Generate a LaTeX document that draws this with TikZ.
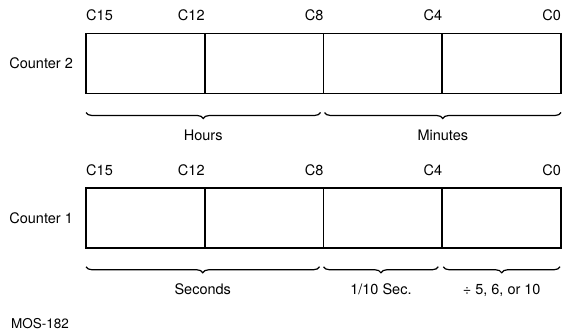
\documentclass[tikz,border=0pt]{standalone}
\usepackage{fontspec}
\setmainfont{TeX Gyre Heros}
\usetikzlibrary{positioning, calc, decorations.pathreplacing}

\begin{document}
\begin{tikzpicture}[
    x=1pt, y=-1pt,
    cell/.style={rectangle, draw, line width=1.6pt, minimum width=118.75pt, minimum height=60pt, outer sep=0pt, inner sep=0pt},
    bitlbl/.style={font=\fontsize{14.5}{16}\selectfont, inner sep=0pt},
    ctrlbl/.style={font=\fontsize{14.5}{16}\selectfont, inner sep=0pt},
    brc/.style={decorate, decoration={brace, mirror, amplitude=6pt}, line width=1.2pt},
    fieldlbl/.style={font=\fontsize{14.5}{16}\selectfont, inner sep=0pt, anchor=base, yshift=-28pt}
]
    \useasboundingbox (0,0) rectangle (563,332);

    % counter 2
    \node[cell] (c2a) at (145.4,63.5) {};
    \node[cell, right=0pt of c2a] (c2b) {};
    \node[cell, right=0pt of c2b] (c2c) {};
    \node[cell, right=0pt of c2c] (c2d) {};
    \node[ctrlbl, left=13pt of c2a] (ctr2) {Counter 2};

    \node[bitlbl, above right=12.5pt and 0pt of c2a.north west] (c2b15) {C15};
    \node[bitlbl, above left=12.5pt and 0pt of c2a.north east] (c2b12) {C12};
    \node[bitlbl, above left=12.5pt and 0pt of c2b.north east] (c2b8) {C8};
    \node[bitlbl, above left=12.5pt and 0pt of c2c.north east] (c2b4) {C4};
    \node[bitlbl, above left=12.5pt and 0pt of c2d.north east] (c2b0) {C0};

    \draw[brc] ($(c2a.south west)+(0,19)$) -- node[fieldlbl] {Hours} ($(c2b.south east)+(-3,19)$);
    \draw[brc] ($(c2c.south west)+(1,19)$) -- node[fieldlbl] {Minutes} ($(c2d.south east)+(0,19)$);

    % counter 1
    \node[cell] (c1a) at (145.4,218.25) {};
    \node[cell, right=0pt of c1a] (c1b) {};
    \node[cell, right=0pt of c1b] (c1c) {};
    \node[cell, right=0pt of c1c] (c1d) {};
    \node[ctrlbl, left=13pt of c1a] (ctr1) {Counter 1};

    \node[bitlbl, above right=12.5pt and 0pt of c1a.north west] (c1b15) {C15};
    \node[bitlbl, above left=12.5pt and 0pt of c1a.north east] (c1b12) {C12};
    \node[bitlbl, above left=12.5pt and 0pt of c1b.north east] (c1b8) {C8};
    \node[bitlbl, above left=12.5pt and 0pt of c1c.north east] (c1b4) {C4};
    \node[bitlbl, above left=12.5pt and 0pt of c1d.north east] (c1b0) {C0};

    \draw[brc] ($(c1a.south west)+(0,18.5)$) -- node[fieldlbl] {Seconds} ($(c1b.south east)+(-4,18.5)$);
    \draw[brc] ($(c1c.south west)+(0,18.5)$) -- node[fieldlbl] {1/10 Sec.} ($(c1c.south east)+(-4,18.5)$);
    \draw[brc] ($(c1d.south west)+(1,18.5)$) -- node[fieldlbl] {÷ 5, 6, or 10} ($(c1d.south east)+(-1,18.5)$);

    \node[font=\fontsize{13.5}{15}\selectfont, inner sep=0pt, anchor=base west] (fig) at (11,328) {MOS-182};
\end{tikzpicture}
\end{document}
